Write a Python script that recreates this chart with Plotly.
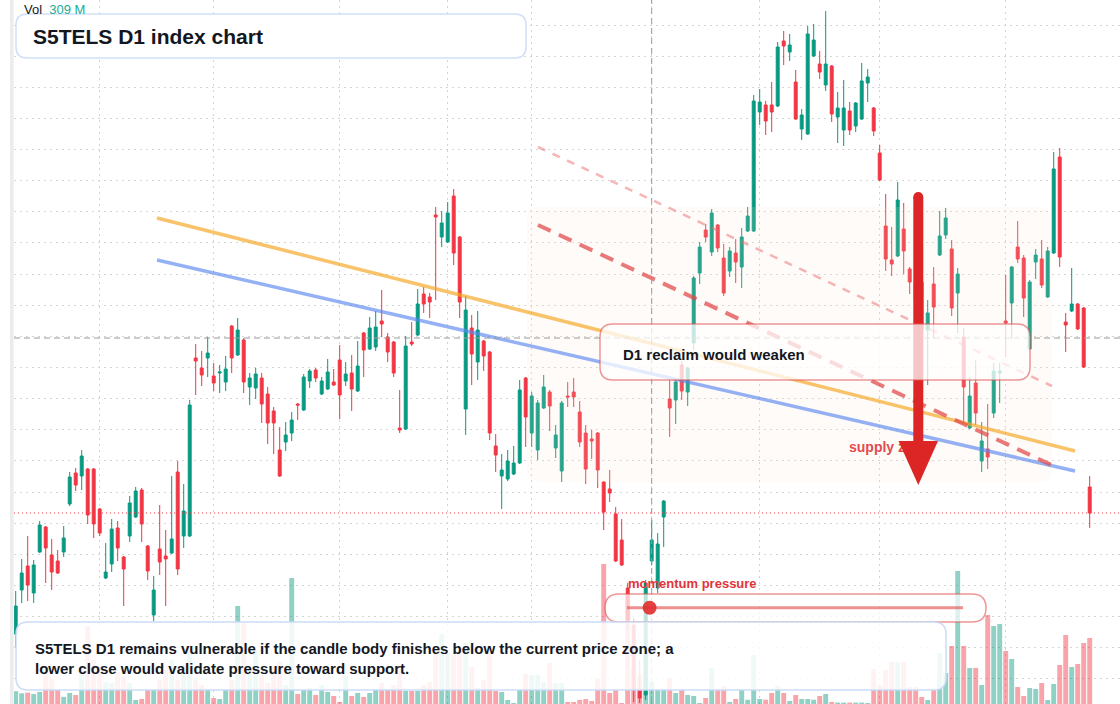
import plotly.graph_objects as go

W, H = 1120, 704
PLOT_L = 14

GREEN = "#089981"
RED = "#f23645"
GREEN_VOL = "rgba(8,153,129,0.45)"
RED_VOL = "rgba(242,54,69,0.45)"
INK = "#131722"
FONT = "Liberation Sans, Arial, sans-serif"

# ---------------- data ----------------
opens = [
    186.6, 191.0, 193.4, 190.7, 194.8, 197.3, 194.5, 193.9, 194.8, 199.6,
    202.7, 202.4, 203.1, 203.1, 199.1, 192.2, 193.6, 197.2, 194.3, 196.4,
    198.3, 201.0, 195.4, 188.5, 195.1, 194.4, 194.7, 202.8, 196.4, 196.4,
    214.2, 213.2, 214.2, 212.4, 212.7, 211.8, 217.4, 214.5, 216.0, 211.3,
    211.2, 212.2, 210.6, 208.9, 205.0, 205.8, 206.7, 209.6, 209.0, 211.9,
    213.0, 210.6, 211.1, 211.8, 214.0, 211.9, 212.7, 210.9, 216.7, 215.1,
    215.3, 217.9, 216.3, 215.8, 207.2, 207.1, 215.8, 216.5, 220.6, 220.3,
    228.5, 226.3, 225.8, 230.4, 226.3, 209.1, 217.2, 213.8, 215.9, 214.8,
    205.4, 202.4, 202.1, 202.6, 203.7, 212.2, 206.7, 205.0, 209.2, 210.8,
    205.2, 202.9, 210.4, 210.8, 208.8, 206.7, 206.1, 206.7, 201.8, 201.1,
    198.6, 196.0, 191.2, 187.5, 181.0, 180.5, 193.9, 191.2, 198.3, 210.1,
    210.0, 213.5, 210.8, 215.7, 222.7, 227.0, 224.8, 227.5, 224.2, 222.9,
    224.7, 223.3, 226.9, 226.9, 238.8, 239.5, 239.5, 239.4, 245.9, 244.8,
    241.8, 237.1, 236.6, 244.4, 243.6, 241.5, 243.4, 238.3, 237.0, 238.9,
    237.4, 238.1, 241.7, 239.2, 234.7, 227.4, 224.0, 224.4, 227.1, 223.1,
    221.8, 221.8, 217.0, 221.6, 224.5, 226.5, 225.1, 220.7, 216.3, 207.2,
    211.7, 203.9, 205.1, 208.7, 212.7, 217.9, 219.7, 225.3, 224.2, 215.1,
    223.8, 224.1, 220.3, 224.7, 234.3, 217.8, 218.9, 219.6, 219.2, 201.3,
]
highs = [
    190.9, 194.1, 196.4, 194.0, 197.9, 197.4, 196.1, 195.0, 197.4, 202.8,
    203.2, 205.0, 203.2, 203.2, 199.2, 195.7, 198.1, 197.9, 194.4, 200.4,
    201.3, 201.2, 195.5, 192.4, 199.5, 197.0, 202.4, 203.9, 201.6, 210.0,
    215.6, 214.9, 216.3, 213.7, 213.5, 214.4, 217.5, 218.2, 216.2, 212.7,
    213.2, 212.7, 211.3, 209.3, 207.3, 207.8, 208.8, 209.7, 212.6, 213.1,
    213.2, 212.3, 214.1, 213.1, 215.5, 213.8, 214.5, 215.9, 216.8, 218.3,
    218.9, 221.0, 216.7, 215.9, 211.0, 216.4, 217.8, 221.1, 221.3, 220.7,
    229.3, 228.9, 229.8, 231.1, 226.4, 220.4, 218.5, 218.9, 216.0, 214.9,
    206.6, 204.6, 205.0, 205.4, 212.0, 212.3, 210.8, 210.0, 212.5, 211.0,
    207.5, 209.9, 211.8, 212.2, 209.9, 207.5, 207.0, 206.8, 201.9, 203.0,
    199.3, 198.1, 191.7, 188.2, 184.0, 192.0, 198.0, 196.7, 200.0, 212.0,
    212.2, 213.9, 213.3, 222.4, 225.8, 227.6, 229.1, 227.6, 225.6, 225.3,
    226.1, 227.2, 229.3, 240.5, 241.1, 239.9, 241.8, 245.8, 246.9, 246.6,
    243.0, 239.1, 247.4, 247.6, 244.9, 248.9, 243.5, 240.8, 242.0, 239.8,
    239.8, 243.7, 243.1, 239.3, 235.5, 230.6, 227.3, 231.8, 229.7, 223.3,
    223.0, 222.2, 220.0, 223.3, 228.9, 229.2, 226.0, 223.2, 217.2, 212.3,
    214.0, 207.8, 209.6, 213.7, 213.7, 222.5, 223.4, 227.9, 224.5, 222.0,
    225.1, 226.0, 225.3, 234.8, 235.2, 218.7, 223.2, 219.7, 219.3, 202.4,
]
lows = [
    185.3, 189.7, 189.9, 189.7, 194.7, 191.7, 191.0, 192.6, 194.3, 199.4,
    200.9, 201.0, 197.6, 196.2, 196.4, 192.1, 192.8, 193.9, 189.4, 195.8,
    198.2, 195.8, 192.0, 187.9, 192.5, 189.4, 194.6, 192.5, 195.2, 196.3,
    210.5, 211.4, 212.3, 210.9, 210.7, 210.9, 212.7, 214.4, 210.7, 209.5,
    210.1, 207.7, 205.6, 204.6, 202.3, 204.9, 205.9, 208.0, 208.9, 211.2,
    211.8, 210.5, 211.0, 211.4, 208.1, 211.4, 208.9, 210.8, 212.3, 215.0,
    214.9, 216.3, 213.8, 212.3, 206.7, 207.0, 215.4, 216.4, 218.7, 218.2,
    220.0, 225.3, 225.7, 223.5, 218.2, 206.5, 211.5, 212.0, 212.9, 206.0,
    202.8, 199.1, 201.9, 202.5, 203.6, 205.3, 205.3, 204.0, 209.1, 206.9,
    204.2, 201.8, 209.3, 209.3, 205.3, 201.6, 204.1, 201.2, 197.0, 199.8,
    193.8, 193.4, 187.0, 179.8, 179.7, 180.0, 193.5, 190.7, 195.3, 206.3,
    207.6, 210.0, 209.4, 215.0, 221.6, 225.8, 224.4, 224.8, 220.4, 222.3,
    221.7, 221.2, 226.8, 226.8, 237.5, 236.5, 236.8, 239.3, 243.5, 243.9,
    238.0, 236.0, 236.5, 244.3, 242.1, 240.9, 237.8, 235.7, 235.4, 236.5,
    236.8, 238.0, 239.8, 236.4, 231.9, 222.9, 222.4, 224.3, 222.6, 220.6,
    219.0, 216.0, 211.5, 216.1, 224.4, 226.1, 218.4, 216.7, 207.7, 207.1,
    207.5, 202.8, 203.1, 208.2, 209.7, 214.3, 216.1, 223.7, 218.3, 215.0,
    222.1, 221.2, 220.2, 224.6, 223.3, 214.8, 218.8, 217.0, 213.2, 197.2,
]
closes = [
    189.4, 192.7, 191.5, 193.5, 197.5, 195.2, 192.8, 192.7, 196.2, 202.3,
    201.5, 204.4, 198.5, 197.6, 196.7, 192.8, 197.1, 195.2, 193.1, 199.7,
    200.9, 197.6, 192.9, 191.0, 193.8, 194.1, 196.1, 193.1, 198.9, 209.5,
    213.9, 212.5, 214.7, 211.7, 212.8, 213.1, 214.2, 217.0, 211.8, 212.2,
    212.6, 209.6, 207.7, 207.7, 202.4, 206.5, 208.0, 209.5, 212.3, 212.9,
    212.2, 211.9, 212.8, 211.5, 210.5, 212.6, 211.1, 213.4, 215.0, 217.2,
    217.3, 217.6, 214.8, 212.7, 207.0, 215.4, 215.6, 219.6, 219.6, 219.8,
    228.3, 227.7, 228.7, 224.7, 219.8, 219.0, 214.6, 217.0, 214.4, 206.7,
    204.5, 203.0, 203.9, 203.7, 211.0, 208.3, 210.4, 209.7, 211.3, 209.4,
    206.5, 209.7, 210.3, 210.3, 205.8, 203.1, 205.9, 203.0, 198.8, 200.7,
    193.9, 193.5, 188.0, 181.0, 180.2, 191.7, 196.0, 195.6, 199.9, 209.2,
    211.8, 210.9, 213.2, 222.2, 225.3, 226.3, 228.7, 225.2, 220.7, 224.9,
    223.8, 226.3, 228.4, 239.9, 239.8, 237.9, 238.8, 245.3, 245.4, 245.5,
    238.1, 238.5, 246.6, 246.0, 242.8, 243.6, 238.6, 239.2, 239.2, 237.0,
    239.7, 241.9, 242.3, 236.9, 232.0, 224.1, 223.6, 230.0, 224.9, 221.8,
    220.0, 217.0, 218.7, 219.3, 226.4, 228.2, 219.2, 222.6, 211.3, 210.4,
    208.7, 205.9, 204.3, 212.9, 212.9, 217.7, 223.3, 224.1, 220.2, 221.8,
    224.5, 221.5, 224.9, 233.1, 224.3, 217.5, 219.6, 217.1, 213.3, 198.7,
]
volumes = [  # millions
    180, 150, 160, 140, 170, 450, 350, 200, 100, 155,
    126, 480, 1095, 620, 520, 310, 295, 450, 380, 295,
    56, 70, 210, 210, 340, 480, 620, 340, 550, 760,
    337, 267, 197, 84, 70, 197, 337, 1377, 1138, 506,
    759, 407, 295, 520, 590, 267, 1770, 140, 197, 225,
    126, 267, 169, 112, 28, 393, 112, 155, 98, 155,
    197, 295, 197, 267, 520, 183, 183, 183, 267, 309,
    731, 983, 717, 688, 731, 857, 520, 225, 337, 731,
    183, 169, 56, 14, 211, 422, 407, 407, 309, 576,
    295, 295, 28, 28, 56, 70, 42, 351, 1967, 155,
    197, 14, 1531, 506, 407, 759, 309, 197, 197, 365,
    155, 197, 126, 112, 14, 84, 506, 197, 253, 28,
    70, 211, 60, 688, 70, 60, 155, 253, 155, 42,
    126, 70, 70, 60, 112, 140, 28, 20, 20, 20,
    20, 20, 14, 492, 267, 478, 590, 590, 590, 239,
    239, 98, 56, 197, 717, 436, 815, 1869, 815, 506,
    506, 267, 1250, 1096, 1124, 745, 632, 239, 112, 225,
    211, 295, 56, 281, 548, 969, 520, 562, 857, 927,
]

title_text = "S5TELS D1 index chart"
note_lines = [
    "S5TELS D1 remains vulnerable if the candle body finishes below the current price zone; a",
    "lower close would validate pressure toward support.",
]
callout_text = "D1 reclaim would weaken"
zone_label = "supply zone"
meter_label = "momentum pressure"
hover_index = 106
month_ticks = [14, 33, 54, 72, 86, 106, 124, 144, 165]

# trend / channel lines as (bar index, price)
resistance_line = [(23.55, 228.2), (176.55, 204.9)]
support_line = [(23.55, 224.0), (176.55, 202.9)]
channel_upper = [(87.05, 235.3), (172.7, 211.4)]
channel_lower = [(87.05, 227.5), (173.0, 203.4)]
cross_price = 216.2

# ---------------- scales ----------------
X_RANGE = [-0.283, 184.05]
Y_RANGE = [179.6, 250.0]
VOL_MAX = 9888

x = list(range(len(opens)))
last_close = closes[-1]


def pxp(xp):
    return (xp - PLOT_L) / (W - PLOT_L)


def pyp(yp):
    return 1 - yp / H


def dx(xp):
    return X_RANGE[0] + (xp - PLOT_L) / (W - PLOT_L) * (X_RANGE[1] - X_RANGE[0])


def dy(yp):
    return Y_RANGE[1] - yp / H * (Y_RANGE[1] - Y_RANGE[0])


def rrect(x0, y0, x1, y1, r):
    X, Y = pxp, pyp
    return (
        f"M {X(x0 + r)},{Y(y0)} L {X(x1 - r)},{Y(y0)} Q {X(x1)},{Y(y0)} {X(x1)},{Y(y0 + r)} "
        f"L {X(x1)},{Y(y1 - r)} Q {X(x1)},{Y(y1)} {X(x1 - r)},{Y(y1)} "
        f"L {X(x0 + r)},{Y(y1)} Q {X(x0)},{Y(y1)} {X(x0)},{Y(y1 - r)} "
        f"L {X(x0)},{Y(y0 + r)} Q {X(x0)},{Y(y0)} {X(x0 + r)},{Y(y0)} Z"
    )


vol_colors = [GREEN_VOL if c >= o else RED_VOL for o, c in zip(opens, closes)]

fig = go.Figure()
fig.add_trace(go.Bar(x=x, y=volumes, yaxis="y2", marker=dict(color=vol_colors, line=dict(width=0)),
                     width=0.82, hoverinfo="skip"))
fig.add_trace(go.Candlestick(
    x=x, open=opens, high=highs, low=lows, close=closes,
    increasing=dict(line=dict(color=GREEN, width=1), fillcolor=GREEN),
    decreasing=dict(line=dict(color=RED, width=1), fillcolor=RED),
    whiskerwidth=0, hoverinfo="skip",
))
fig.add_trace(go.Scatter(x=[dx(849)], y=[dy(448)], mode="text", text=[f"<b>{zone_label}</b>"],
                         textposition="middle right",
                         textfont=dict(family=FONT, size=14, color="#e0323c"), hoverinfo="skip"))

shapes = []
# left grey rail
shapes.append(dict(type="rect", xref="paper", yref="paper", x0=pxp(10), x1=pxp(13.6), y0=0, y1=1,
                   fillcolor="#ececec", line=dict(width=0), layer="above"))
# supply zone
shapes.append(dict(type="path", xref="paper", yref="paper", path=rrect(527, 207, 1052, 482, 12),
                   fillcolor="rgba(245,225,205,0.14)", line=dict(width=0), layer="above"))
# trend lines
for pts, col, wd, dash in [
    (resistance_line, "rgba(245,166,35,0.68)", 3.5, "solid"),
    (support_line, "rgba(90,135,240,0.65)", 3.5, "solid"),
    (channel_upper, "rgba(235,110,110,0.5)", 2.5, "8px,8px"),
    (channel_lower, "rgba(225,70,70,0.72)", 4, "14px,9px"),
]:
    shapes.append(dict(type="line", xref="x", yref="y", x0=pts[0][0], y0=pts[0][1], x1=pts[1][0], y1=pts[1][1],
                       line=dict(color=col, width=wd, dash=dash), layer="above"))
# crosshair
shapes.append(dict(type="line", xref="paper", yref="y", x0=0, x1=1, y0=cross_price, y1=cross_price,
                   line=dict(color="#9a9a9a", width=1, dash="6px,4px"), layer="above"))
shapes.append(dict(type="line", xref="x", yref="paper", x0=hover_index, x1=hover_index, y0=0, y1=1,
                   line=dict(color="#9a9a9a", width=1, dash="6px,4px"), layer="above"))
# last price line
shapes.append(dict(type="line", xref="paper", yref="y", x0=0, x1=1, y0=last_close, y1=last_close,
                   line=dict(color=RED, width=1, dash="1px,3px"), layer="above"))
# arrow
AR = "#dc2626"
shapes.append(dict(type="line", xref="paper", yref="paper", x0=pxp(918.3), x1=pxp(918.3), y0=pyp(197), y1=pyp(446),
                   line=dict(color=AR, width=10), layer="above"))
shapes.append(dict(type="circle", xref="paper", yref="paper", x0=pxp(913.3), x1=pxp(923.3), y0=pyp(192), y1=pyp(202),
                   fillcolor=AR, line=dict(width=0), layer="above"))
shapes.append(dict(type="path", xref="paper", yref="paper",
                   path=f"M {pxp(898.5)},{pyp(441)} L {pxp(938)},{pyp(441)} L {pxp(918.3)},{pyp(485)} Z",
                   fillcolor=AR, line=dict(width=0), layer="above"))
# callout box
shapes.append(dict(type="path", xref="paper", yref="paper", path=rrect(600, 324, 1030, 380, 13),
                   fillcolor="rgba(255,255,255,0.74)", line=dict(color="rgba(225,80,80,0.6)", width=1.5), layer="above"))
# momentum meter
shapes.append(dict(type="path", xref="paper", yref="paper", path=rrect(605, 594, 986, 622, 14),
                   fillcolor="rgba(255,255,255,0.72)", line=dict(color="rgba(225,80,80,0.6)", width=1.5), layer="above"))
shapes.append(dict(type="line", xref="paper", yref="paper", x0=pxp(627), x1=pxp(963), y0=pyp(607.7), y1=pyp(607.7),
                   line=dict(color="rgba(225,70,70,0.6)", width=3), layer="above"))
shapes.append(dict(type="circle", xref="paper", yref="paper", x0=pxp(642.6), x1=pxp(656.6), y0=pyp(600.7), y1=pyp(614.7),
                   fillcolor="rgba(225,45,45,0.9)", line=dict(width=0), layer="above"))
# note box
shapes.append(dict(type="path", xref="paper", yref="paper", path=rrect(16, 622, 946, 690, 12),
                   fillcolor="rgba(255,255,255,0.86)", line=dict(color="rgba(200,218,246,0.95)", width=1.5), layer="above"))
# title box
shapes.append(dict(type="path", xref="paper", yref="paper", path=rrect(16, 14, 526, 58, 11),
                   fillcolor="rgba(255,255,255,0.95)", line=dict(color="rgba(205,222,248,0.95)", width=1.5), layer="above"))

annotations = [
    dict(xref="paper", yref="paper", x=pxp(31), y=pyp(36), xanchor="left", yanchor="middle", showarrow=False,
         text=f"<b>{title_text}</b>", font=dict(family=FONT, size=21, color=INK)),
    dict(xref="paper", yref="paper", x=pxp(22), y=pyp(9), xanchor="left", yanchor="middle", showarrow=False,
         text=f"Vol  <span style='color:#22ab94'>{volumes[hover_index]} M</span>",
         font=dict(family=FONT, size=13, color=INK)),
    dict(xref="paper", yref="paper", x=pxp(621), y=pyp(354), xanchor="left", yanchor="middle", showarrow=False,
         text=f"<b>{callout_text}</b>", font=dict(family=FONT, size=15, color=INK)),
    dict(xref="paper", yref="paper", x=pxp(626), y=pyp(583), xanchor="left", yanchor="middle", showarrow=False,
         text=f"<b>{meter_label}</b>", font=dict(family=FONT, size=13, color="#e0353b")),
    dict(xref="paper", yref="paper", x=pxp(33), y=pyp(658.5), xanchor="left", yanchor="middle", showarrow=False,
         align="left", text="<b>" + "<br>".join(note_lines) + "</b>", font=dict(family=FONT, size=15, color=INK)),
]

grid = dict(showgrid=True, gridcolor="#d4d4d4", gridwidth=1, griddash="2px,4px", zeroline=False,
            showticklabels=False, ticks="", showline=False)

fig.update_layout(
    width=W, height=H, margin=dict(l=PLOT_L, r=0, t=0, b=0),
    paper_bgcolor="white", plot_bgcolor="white", showlegend=False,
    xaxis=dict(range=X_RANGE, tickmode="array", tickvals=month_ticks, rangeslider=dict(visible=False), **grid),
    yaxis=dict(range=Y_RANGE, tick0=247.5, dtick=3.114, **grid),
    yaxis2=dict(range=[0, VOL_MAX], overlaying="y", visible=False),
    shapes=shapes, annotations=annotations, hovermode=False,
)

fig.write_html("out.html")
